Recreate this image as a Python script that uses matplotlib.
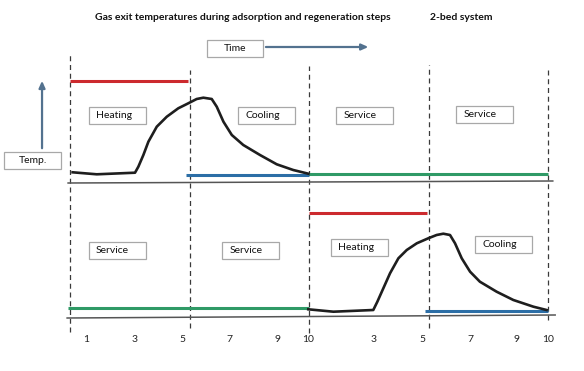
import matplotlib
matplotlib.use("Agg")
import matplotlib.pyplot as plt
from matplotlib.patches import Rectangle

plt.rcParams['font.family'] = ['Lato', 'DejaVu Sans']

# time axis: 0..10 adsorption/heating half-cycle, 10..20 second half
phase_bounds = [0, 5, 10, 15, 20]
tick_pos = [0.67, 2.68, 4.69, 6.69, 8.7, 9.96, 12.68, 14.73, 16.74, 18.7, 20.0]
tick_labels = ["1", "3", "5", "7", "9", "10", "3", "5", "7", "9", "10"]

# bed 1 (top) gas exit temperature, arbitrary units above baseline
bed1_t = [0.11, 1.12, 2.72, 2.86, 3.07, 3.28, 3.63, 4.05, 4.53, 4.95, 5.30, 5.58,
          5.93, 6.14, 6.42, 6.77, 7.25, 7.95, 8.65, 9.34, 9.97]
bed1_T = [9.7, 7.7, 9.3, 15.3, 27, 40.3, 55.3, 65.3, 73.7, 78.7, 83, 84.3,
          83, 75.3, 60.3, 47, 37, 27, 17.7, 12, 8.3]

# bed 2 (bottom)
bed2_t = [9.97, 11.02, 12.69, 12.86, 13.11, 13.39, 13.74, 14.09, 14.51, 14.99, 15.34,
          15.62, 15.90, 16.11, 16.39, 16.74, 17.15, 17.85, 18.55, 19.39, 19.94]
bed2_T = [7.7, 5.3, 7, 15.3, 28.7, 43.7, 58.7, 67, 73.7, 78.7, 82,
          83.3, 82, 73.7, 58.7, 45.3, 35.3, 25.3, 17, 10.3, 7]

# reference levels: (start, end, temp)
bed1_heat = (0, 4.94, 101)
bed1_cool = (4.85, 10.0, 7)
bed1_serv = (10.0, 20.0, 8.5)
bed2_serv = (-0.08, 10.0, 9)
bed2_heat = (10.0, 14.94, 104)
bed2_cool = (14.85, 20.0, 6)

bed1_steps = ["Heating", "Cooling", "Service", "Service"]
bed2_steps = ["Service", "Service", "Heating", "Cooling"]

title = "Gas exit temperatures during adsorption and regeneration steps"
subtitle = "2-bed system"

# ---- layout (pixel-ish units) ----
W, H = 584, 371
px_per_t = 23.9
x0_px = 70
base_top = 135      # top panel baseline, bottom panel baseline is 0
red = "#cc2a2e"
blue = "#2c6ea6"
green = "#2f9a66"
arrow_c = "#53728f"
box_c = "#a8a8a8"

fig = plt.figure(figsize=(W / 100, H / 100), dpi=100)
ax = fig.add_axes([0, 0, 1, 1])
ax.set_xlim(-x0_px / px_per_t, (W - x0_px) / px_per_t)
ax.set_ylim(317 - H, 317)
ax.axis("off")

# dashed phase boundaries
dash_top = [262, 247, 251, 252, 247]
dash_bot = [-15, -11, -16, -11, -3]
for xb, yt, yb in zip(phase_bounds, dash_top, dash_bot):
    ax.plot([xb, xb], [yb, yt], color="#3a3a3a", lw=0.9, dashes=(4, 3))

# baselines
ax.plot([-0.08, 20.2], [base_top - 1, base_top + 1], color="#555555", lw=1.1)
ax.plot([-0.12, 20.3], [-1, 2], color="#555555", lw=1.1)

# reference lines
for (a, b, T), c in zip([bed1_heat, bed1_cool, bed1_serv], [red, blue, green]):
    ax.plot([a, b], [base_top + T, base_top + T], color=c, lw=2.2, solid_capstyle="butt")
for (a, b, T), c in zip([bed2_serv, bed2_heat, bed2_cool], [green, red, blue]):
    ax.plot([a, b], [T, T], color=c, lw=2.2, solid_capstyle="butt")

# temperature curves
ax.plot(bed1_t, [base_top + v for v in bed1_T], color="#1e1e1e", lw=1.9, solid_joinstyle="round")
ax.plot(bed2_t, bed2_T, color="#1e1e1e", lw=1.9, solid_joinstyle="round")

# step label boxes
bw, bh = 2.4, 17.5


def box(x, y, label, w=bw, center=False):
    ax.add_patch(Rectangle((x, y), w, bh, facecolor="white", edgecolor=box_c, lw=0.9, zorder=3))
    if center:
        ax.text(x + w / 2, y + bh / 2, label, ha="center", va="center", fontsize=7.5, color="#111111", zorder=4)
    else:
        ax.text(x + 0.3, y + bh / 2, label, ha="left", va="center", fontsize=7.5, color="#111111", zorder=4)


top_box_x = [0.79, 7.03, 11.13, 16.15]
top_box_y = [193, 193, 193, 194]
for x, y, s in zip(top_box_x, top_box_y, bed1_steps):
    box(x, y, s)

bot_box_x = [0.79, 6.36, 10.92, 16.95]
bot_box_y = [58, 58, 61, 64]
for x, y, s in zip(bot_box_x, bot_box_y, bed2_steps):
    box(x, y, s)

box(-2.76, 148, "Temp.", center=True)
box(5.73, 260, "Time", w=2.35, center=True)

# axis arrows
ax.annotate("", xy=(-1.17, 239), xytext=(-1.17, 166),
            arrowprops=dict(arrowstyle="-|>,head_length=0.4,head_width=0.18", color=arrow_c, lw=1.6))
ax.annotate("", xy=(12.6, 270), xytext=(8.08, 270),
            arrowprops=dict(arrowstyle="-|>,head_length=0.4,head_width=0.18", color=arrow_c, lw=1.6))

# tick labels
for p, s in zip(tick_pos, tick_labels):
    ax.text(p, -22, s, ha="center", va="center", fontsize=7.5, color="#222222")

ax.text(1.05, 300, title, ha="left", va="center", fontsize=7.5, fontweight="bold", color="#111111")
ax.text(15.06, 300, subtitle, ha="left", va="center", fontsize=7.5, fontweight="bold", color="#111111")

fig.savefig("out.png", dpi=100, facecolor="white")
